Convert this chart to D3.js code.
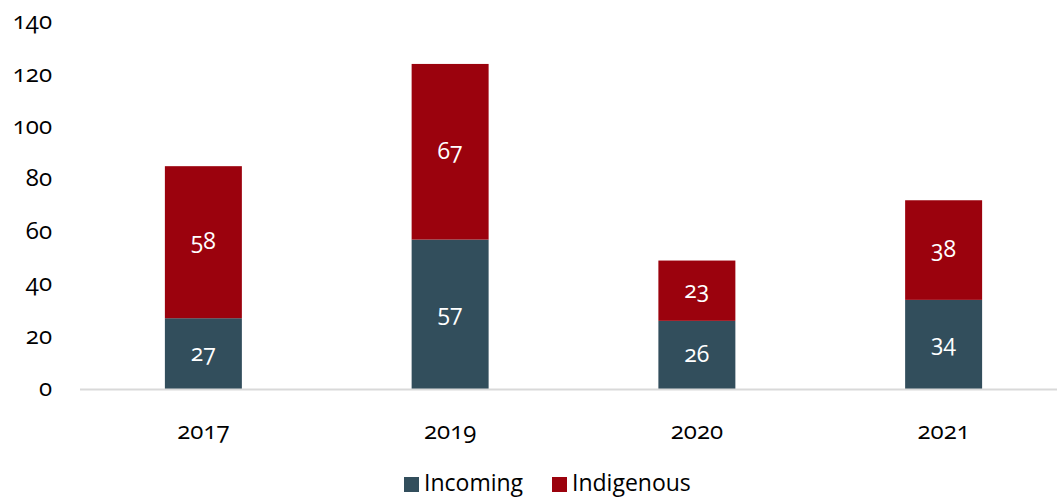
<!DOCTYPE html>
<html><head><meta charset="utf-8">
<script src="https://cdn.jsdelivr.net/npm/d3@7"></script>
<style>
body{margin:0;background:#fff;}
text{font-family:"Open Sans",Lato,sans-serif;font-variant-numeric:oldstyle-nums;font-feature-settings:"onum";}
</style></head>
<body><svg id="c" width="1057" height="498"></svg>
<script>
const categories = ["2017","2019","2020","2021"];
const incoming = [27,57,26,34];
const indigenous = [58,67,23,38];
const seriesNames = ["Incoming","Indigenous"];
const colors = ["#324e5c","#9b020d"];
const yTicks = [0,20,40,60,80,100,120,140];

const svg = d3.select("#c");
const x = d3.scaleBand().domain(categories).range([80,1067]).paddingInner(0.688).paddingOuter(0.344);
const y = d3.scaleLinear().domain([0,140]).range([389,22]);

const rows = categories.map((c,i)=>({cat:c, Incoming:incoming[i], Indigenous:indigenous[i]}));
const stack = d3.stack().keys(seriesNames)(rows);

svg.append("g").selectAll("text").data(yTicks).join("text")
  .attr("x",52).attr("y",d=>y(d)).attr("dy","0.3em").attr("text-anchor","end")
  .attr("font-size",24).attr("fill","#000").text(d=>d);

stack.forEach((s,si)=>{
  const g = svg.append("g");
  g.selectAll("rect").data(s).join("rect")
    .attr("x",d=>x(d.data.cat)).attr("width",x.bandwidth())
    .attr("y",d=>y(d[1])).attr("height",d=>y(d[0])-y(d[1]))
    .attr("fill",colors[si]);
  g.selectAll("text").data(s).join("text")
    .attr("x",d=>x(d.data.cat)+x.bandwidth()/2)
    .attr("y",d=>(y(d[0])+y(d[1]))/2).attr("dy","0.3em")
    .attr("text-anchor","middle").attr("fill","#fff").attr("font-size",23)
    .text(d=>d[1]-d[0]);
});

svg.append("line").attr("x1",80).attr("x2",1057).attr("y1",389.5).attr("y2",389.5)
  .attr("stroke","#d9d9d9").attr("stroke-width",2);

svg.append("g").selectAll("text").data(categories).join("text")
  .attr("x",d=>x(d)+x.bandwidth()/2).attr("y",432).attr("dy","0.3em")
  .attr("text-anchor","middle").attr("font-size",24).attr("fill","#000").text(d=>d);

const leg = [{n:"Incoming",x:404,c:colors[0]},{n:"Indigenous",x:552,c:colors[1]}];
const lg = svg.append("g");
lg.selectAll("rect").data(leg).join("rect").attr("x",d=>d.x).attr("y",477).attr("width",15).attr("height",15).attr("fill",d=>d.c);
lg.selectAll("text").data(leg).join("text").attr("x",d=>d.x+20).attr("y",491)
  .attr("font-size",23).attr("fill","#000").text(d=>d.n);
</script></body></html>
